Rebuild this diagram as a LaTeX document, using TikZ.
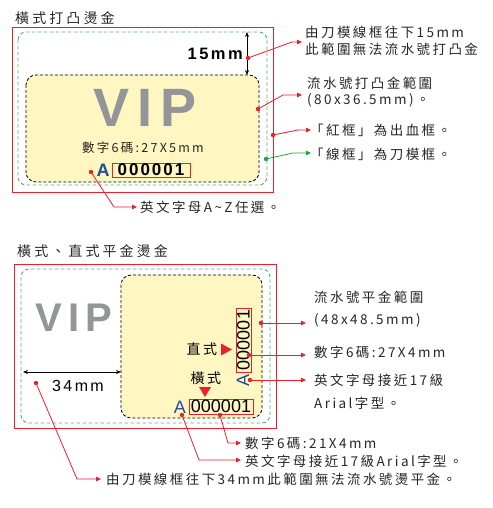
\documentclass[tikz,border=0pt]{standalone}
\usepackage{fontspec}
\setmainfont{Liberation Sans}
\newfontfamily\cjk[LetterSpace=18]{Noto Sans CJK TC}
\newfontfamily\cjkt[LetterSpace=22]{Noto Sans CJK TC}
\newfontfamily\arsp[LetterSpace=15]{Liberation Sans}
\usetikzlibrary{arrows.meta}
\definecolor{myred}{HTML}{E8212B}
\definecolor{mygreen}{HTML}{4DB36E}
\definecolor{myleafgreen}{HTML}{1FA34A}
\definecolor{myyellow}{HTML}{FFF6C2}
\definecolor{mygray}{HTML}{939598}
\definecolor{myblue}{HTML}{1F4E9A}
\tikzset{
  bleed/.style={draw=myred, line width=0.9pt},
  dieline/.style={draw=mygreen, line width=0.9pt, dash pattern=on 3.5pt off 2.5pt, rounded corners=8pt},
  area/.style={draw=black, fill=myyellow, line width=0.8pt, dash pattern=on 3pt off 2pt, rounded corners=10pt},
  leader/.style={draw=myred, line width=0.8pt, -{Triangle[length=5pt,width=4.5pt]}},
  gleader/.style={draw=myleafgreen, line width=0.8pt, -{Triangle[length=5pt,width=4.5pt]}},
  dim/.style={draw=black, line width=0.8pt, {Stealth[length=5pt,width=4pt]}-{Stealth[length=5pt,width=4pt]}},
  note/.style={anchor=west, inner sep=0pt, font=\cjk\fontsize{13.5}{14}\selectfont, text=black!85},
  ttl/.style={anchor=west, inner sep=0pt, font=\cjkt\fontsize{14}{15}\selectfont, text=black!85},
  numbox/.style={draw=myred, line width=0.8pt, inner sep=0pt},
}
\begin{document}
\begin{tikzpicture}[x=1pt,y=-1pt]
\useasboundingbox (0,0) rectangle (492,508);

% ================= TOP =================
\node[ttl] (title1) at (15,18) {橫式打凸燙金};
\draw[bleed] (12,27) rectangle (273,192);
\draw[dieline] (18,32) rectangle (267,185);
\draw[area] (26,75) rectangle (259,182);

\coordinate (d1a) at (247,32);
\coordinate (d1b) at (247,75);
\draw[dim] (d1a) -- (d1b);
\node[anchor=east, inner sep=0pt, font=\arsp\bfseries\fontsize{16.5}{17}\selectfont] (mm15) at (243,54) {15mm};

\node[font=\arsp\bfseries\fontsize{54}{54}\selectfont, text=mygray, inner sep=0pt] (vip1) at (145,107.5) {VIP};
\node[font=\cjk\fontsize{12.5}{13}\selectfont, inner sep=0pt, text=black!85] (dig1) at (143,148) {數字6碼:27X5mm};
\node[font=\bfseries\fontsize{18}{18}\selectfont, text=myblue, inner sep=0pt] (A1) at (103,170) {A};
\node[numbox, minimum width=78pt, minimum height=14pt, font=\addfontfeature{LetterSpace=12}\bfseries\fontsize{17}{17}\selectfont] (num1) at (151,170) {000001};

% notes top
\node[note] (t1a) at (305,32) {由刀模線框往下15mm};
\node[note] (t1b) at (305,49) {此範圍無法流水號打凸金};
\node[note] (t2a) at (307,83) {流水號打凸金範圍};
\node[note] (t2b) at (307,100) {(80x36.5mm)。};
\node[note] (t3) at (310,130) {「紅框」為出血框。};
\node[note] (t4) at (310,154) {「線框」為刀模框。};
\node[note] (t5) at (140,207) {英文字母A\char`\~Z任選。};

% leaders top
\coordinate (p1) at (248,58); \coordinate (p1m) at (292,42); \coordinate (p1e) at (302,42);
\coordinate (p2) at (258,109); \coordinate (p2m) at (283,95); \coordinate (p2e) at (302,95);
\coordinate (p3) at (273,135); \coordinate (p3m) at (298,130); \coordinate (p3e) at (311,130);
\coordinate (p4) at (266,159); \coordinate (p4m) at (293,153); \coordinate (p4e) at (311,153);
\coordinate (p5) at (91,172); \coordinate (p5m) at (114,207); \coordinate (p5e) at (137,207);
\draw[leader] (p1) -- (p1m) -- (p1e);
\draw[leader] (p2) -- (p2m) -- (p2e);
\draw[leader] (p3) -- (p3m) -- (p3e);
\draw[gleader] (p4) -- (p4m) -- (p4e);
\draw[leader] (p5) -- (p5m) -- (p5e);
\foreach \p in {p1,p2,p3,p5} \fill[myred] (\p) circle (2.2pt);
\fill[myleafgreen] (p4) circle (2.2pt);

% ================= BOTTOM =================
\node[ttl] (title2) at (17,251) {橫式、直式平金燙金};
\draw[bleed] (14,264) rectangle (276,428);
\draw[dieline] (21,269) rectangle (270,423);
\draw[area] (121,275) rectangle (262,418);

\node[font=\arsp\bfseries\fontsize{40}{40}\selectfont, text=mygray, inner sep=0pt] (vip2) at (74,317.5) {VIP};

\coordinate (d2a) at (23,372);
\coordinate (d2b) at (121,372);
\draw[dim] (d2a) -- (d2b);
\node[font=\arsp\fontsize{16}{16}\selectfont, inner sep=0pt] (mm34) at (78,386) {34mm};

% vertical number
\node[numbox, rotate=90, minimum width=64pt, minimum height=15pt, font=\fontsize{18}{18}\selectfont] (num2v) at (243.5,340) {000001};
\node[rotate=90, font=\fontsize{18}{18}\selectfont, text=myblue, inner sep=0pt] (A2v) at (243,380) {A};
% horizontal number
\node[numbox, minimum width=64pt, minimum height=15pt, font=\fontsize{18}{18}\selectfont] (num2h) at (221,406.5) {000001};
\node[font=\fontsize{18}{18}\selectfont, text=myblue, inner sep=0pt] (A2h) at (180,407) {A};

\node[font=\cjk\fontsize{14}{14}\selectfont, inner sep=0pt] (zs) at (202,349) {直式};
\fill[myred] (221,343.5) -- (221,355.5) -- (232,349.5) -- cycle;
\node[font=\cjk\fontsize{14}{14}\selectfont, inner sep=0pt] (hs) at (206,378) {橫式};
\fill[myred] (199,387) -- (211,387) -- (205,397) -- cycle;

% notes bottom
\node[note] (b1a) at (314,297) {流水號平金範圍};
\node[note] (b1b) at (314,320) {(48x48.5mm)};
\node[note] (b2) at (314,352) {數字6碼:27X4mm};
\node[note] (b3a) at (314,380) {英文字母接近17級};
\node[note] (b3b) at (314,403) {Arial字型。};
\node[note] (b4) at (245,443) {數字6碼:21X4mm};
\node[note] (b5) at (245,461) {英文字母接近17級Arial字型。};
\node[note] (b6) at (106,479) {由刀模線框往下34mm此範圍無法流水號燙平金。};

% leaders bottom
\coordinate (q1) at (261,323); \coordinate (q1e) at (306,323);
\coordinate (q2) at (249,355); \coordinate (q2e) at (306,355);
\coordinate (q3) at (250,380); \coordinate (q3e) at (306,380);
\coordinate (q4) at (220,415); \coordinate (q4m) at (228,443); \coordinate (q4e) at (241,443);
\coordinate (q5) at (182,415); \coordinate (q5m) at (199,460); \coordinate (q5e) at (241,460);
\coordinate (q6) at (36,383); \coordinate (q6m) at (77,479); \coordinate (q6e) at (101,479);
\draw[leader] (q1) -- (q1e);
\draw[leader] (q2) -- (q2e);
\draw[leader] (q3) -- (q3e);
\draw[leader] (q4) -- (q4m) -- (q4e);
\draw[leader] (q5) -- (q5m) -- (q5e);
\draw[leader] (q6) -- (q6m) -- (q6e);
\foreach \p in {q1,q2,q3,q4,q5,q6} \fill[myred] (\p) circle (2.2pt);
\end{tikzpicture}
\end{document}
